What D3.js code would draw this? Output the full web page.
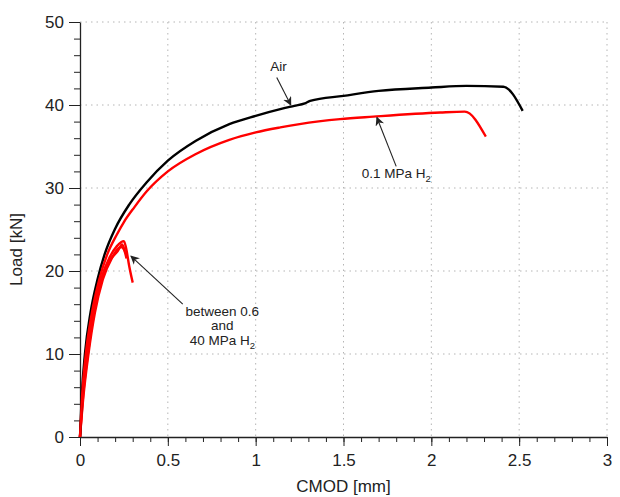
<!DOCTYPE html>
<html>
<head>
<meta charset="utf-8">
<script src="https://cdn.jsdelivr.net/npm/d3@7"></script>
<style>
  body { margin: 0; background: #fff; }
  text { font-family: "Liberation Sans", Arial, sans-serif; fill: #222; }
</style>
</head>
<body>
<div id="chart"></div>
<script>
// curves, [CMOD mm, load kN]
var airCurve = [[0,0],[0.01,5],[0.028,10],[0.06,15],[0.1,19],[0.14,22],[0.2,25.1],[0.28,28.0],[0.38,30.7],
  [0.5,33.3],[0.66,35.7],[0.85,37.7],[1.0,38.7],[1.14,39.5],[1.22,39.9],[1.28,40.2],[1.31,40.5],
  [1.5,41.1],[1.7,41.7],[2.0,42.1],[2.2,42.3],[2.41,42.2],[2.52,39.3]];
var h2LowCurve = [[0,0],[0.012,5],[0.033,10],[0.068,15],[0.11,19],[0.155,22],[0.21,24.4],[0.25,25.9],
  [0.31,27.7],[0.38,29.6],[0.5,32.0],[0.66,34.1],[0.85,35.8],[1.0,36.7],[1.14,37.3],[1.25,37.7],
  [1.48,38.3],[1.67,38.6],[2.05,39.1],[2.19,39.2],[2.31,36.2]];
var h2HighA = [[0,0],[0.015,5],[0.04,10],[0.075,15],[0.12,19],[0.17,21.7],[0.21,23],[0.25,23.6],
  [0.262,22.8],[0.28,20.6],[0.3,18.6]];
var h2HighB = [[0,0],[0.02,5],[0.048,10],[0.085,15],[0.13,19],[0.18,21.5],[0.235,22.9],[0.25,22.6],[0.265,21.5]];
var h2HighC = [[0,0],[0.018,5],[0.045,10],[0.08,15],[0.125,19.2],[0.17,21.3],[0.215,22.4],[0.24,23.2],[0.255,22.4]];

var xTicks = [0, 0.5, 1, 1.5, 2, 2.5, 3];
var yTicks = [0, 10, 20, 30, 40, 50];

// labels with arrows: text position, arrow tail, arrow tip (data units)
var notes = [
  {lines: ["Air"], at: [1.13, 44.1], from: [1.12, 43.3], to: [1.20, 40.0]},
  {lines: ["0.1 MPa H|2"], at: [1.80, 31.2], from: [1.80, 32.6], to: [1.69, 38.5]},
  {lines: ["between 0.6", "and", "40 MPa H|2"], at: [0.81, 14.6], from: [0.585, 16.0], to: [0.29, 21.8]}
];

var margin = {top: 22, right: 13, bottom: 60, left: 80}
  , width = 620 - margin.left - margin.right
  , height = 497 - margin.top - margin.bottom;

var x = d3.scaleLinear().domain([0, 3]).range([0, width]);
var y = d3.scaleLinear().domain([0, 50]).range([height, 0]);

var svg = d3.select("#chart").append("svg")
  .attr("width", 620)
  .attr("height", 497)
  .append("g")
  .attr("transform", "translate(" + margin.left + "," + margin.top + ")");

svg.append("defs").append("marker")
  .attr("id", "head")
  .attr("viewBox", "0 0 10 10")
  .attr("refX", 9).attr("refY", 5)
  .attr("markerWidth", 9).attr("markerHeight", 9)
  .attr("markerUnits", "userSpaceOnUse")
  .attr("orient", "auto")
  .append("path")
  .attr("d", "M0,0 L10,5 L0,10 L3,5 Z")
  .attr("fill", "#222");

// dotted grid
svg.append("g").selectAll("line").data(xTicks.slice(1)).join("line")
  .attr("x1", d => x(d)).attr("x2", d => x(d))
  .attr("y1", 0).attr("y2", height)
  .attr("stroke", "#b5b5b5").attr("stroke-dasharray", "1.5,4");
svg.append("g").selectAll("line").data(yTicks.slice(1)).join("line")
  .attr("x1", 0).attr("x2", width)
  .attr("y1", d => y(d)).attr("y2", d => y(d))
  .attr("stroke", "#b5b5b5").attr("stroke-dasharray", "1.5,4");

// axes: minor ticks first, then major ones with labels
svg.append("g")
  .attr("transform", "translate(0," + height + ")")
  .call(d3.axisBottom(x).tickValues(d3.range(0, 3.01, 0.1)).tickSize(5).tickFormat(""))
  .call(g => g.select(".domain").remove());
svg.append("g")
  .call(d3.axisLeft(y).tickValues(d3.range(0, 50.1, 2)).tickSize(6).tickFormat(""))
  .call(g => g.select(".domain").remove());

var xAxis = svg.append("g")
  .attr("transform", "translate(0," + height + ")")
  .call(d3.axisBottom(x).tickValues(xTicks).tickSize(9).tickPadding(8).tickSizeOuter(0).tickFormat(d3.format("")));
var yAxis = svg.append("g")
  .call(d3.axisLeft(y).tickValues(yTicks).tickSize(11).tickPadding(5).tickSizeOuter(0));
[xAxis, yAxis].forEach(function(g) {
  g.selectAll("text").attr("font-size", 17).attr("fill", "#222").attr("font-family", null);
  g.selectAll("line").attr("stroke", "#222");
  g.select(".domain").attr("stroke", "#222").attr("stroke-width", 1.3);
});
svg.selectAll(".tick line").attr("stroke", "#222");

svg.append("text")
  .attr("x", width / 2).attr("y", height + 55)
  .attr("text-anchor", "middle").attr("font-size", 17)
  .text("CMOD [mm]");
svg.append("text")
  .attr("transform", "translate(-58," + (height / 2 + 20) + ") rotate(-90)")
  .attr("text-anchor", "middle").attr("font-size", 17)
  .text("Load [kN]");

// curves
var line = d3.line()
  .x(d => x(d[0]))
  .y(d => y(d[1]))
  .curve(d3.curveMonotoneX);

var series = [
  {data: h2HighA, color: "#ff0000"},
  {data: h2HighB, color: "#ff0000"},
  {data: h2HighC, color: "#ff0000"},
  {data: airCurve, color: "#000000"},
  {data: h2LowCurve, color: "#ff0000"}
];
svg.append("g").selectAll("path").data(series).join("path")
  .attr("d", d => line(d.data))
  .attr("fill", "none")
  .attr("stroke", d => d.color)
  .attr("stroke-width", 2.4)
  .attr("stroke-linejoin", "round");

// annotations
notes.forEach(function(n) {
  svg.append("line")
    .attr("x1", x(n.from[0])).attr("y1", y(n.from[1]))
    .attr("x2", x(n.to[0])).attr("y2", y(n.to[1]))
    .attr("stroke", "#222").attr("stroke-width", 1.1)
    .attr("marker-end", "url(#head)");
  n.lines.forEach(function(s, i) {
    var parts = s.split("|");
    var t = svg.append("text")
      .attr("x", x(n.at[0])).attr("y", y(n.at[1]) + i * 14.5)
      .attr("text-anchor", "middle").attr("font-size", 13.5);
    t.append("tspan").text(parts[0]);
    if (parts[1]) t.append("tspan").attr("font-size", 9.5).attr("dy", 4).text(parts[1]);
  });
});
</script>
</body>
</html>
